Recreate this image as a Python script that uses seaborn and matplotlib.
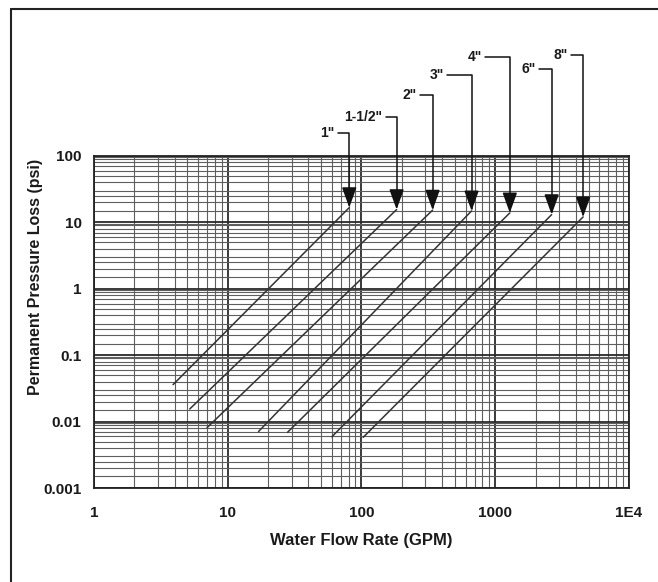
import matplotlib
matplotlib.use('Agg')
import pandas as pd
import matplotlib.pyplot as plt
import matplotlib.ticker as mticker
from matplotlib.lines import Line2D
import seaborn as sns

# pipe sizes and the two ends of each pressure-loss line
sizes = ['1"', '1-1/2"', '2"', '3"', '4"', '6"', '8"']
flow_low = [3.9, 5.2, 7.0, 17, 28, 60, 103]
loss_low = [0.036, 0.0155, 0.0081, 0.0071, 0.0069, 0.0059, 0.0058]
flow_high = [81, 183, 340, 665, 1285, 2640, 4540]
loss_high = [16.7, 15.6, 15.3, 14.9, 13.9, 13.1, 12.1]

x_ticks = [1, 10, 100, 1000, 10000]
x_labels = ['1', '10', '100', '1000', '1E4']
y_ticks = [0.001, 0.01, 0.1, 1, 10, 100]
y_labels = ['0.001', '0.01', '0.1', '1', '10', '100']

# where each size label sits relative to its arrow tip (pixels left, pixels up)
label_offsets = [(22, 75), (33, 93), (23, 115), (35, 136), (35, 156), (23, 146), (23, 162)]

df = pd.DataFrame({
    'size': sizes + sizes,
    'flow': flow_low + flow_high,
    'loss': loss_low + loss_high,
})

sns.set_style('white')
plt.rcParams['font.family'] = ['Liberation Sans', 'DejaVu Sans']
plt.rcParams['font.weight'] = 'bold'

fig = plt.figure(figsize=(6.58, 5.82), dpi=100)
ax = fig.add_axes([94 / 658, 94 / 582, 535 / 658, 332 / 582])
ax.set_xscale('log')
ax.set_yscale('log')
ax.set_xlim(1, 10000)
ax.set_ylim(0.001, 100)

# log paper grid
ax.xaxis.set_minor_locator(mticker.LogLocator(base=10, subs=range(2, 10)))
ax.yaxis.set_minor_locator(mticker.LogLocator(base=10, subs=[1.5, 2, 2.5, 3, 4, 5, 6, 7, 8, 9, 9.5]))
ax.grid(which='major', color='#2a2a2a', lw=1.3)
ax.grid(which='minor', color='#5e5e5e', lw=0.8)
ax.set_axisbelow(True)

sns.lineplot(data=df, x='flow', y='loss', hue='size', hue_order=sizes,
             palette=['#333333'] * len(sizes), estimator=None, legend=False,
             lw=1.1, ax=ax)

px = 0.72  # points per pixel at 100 dpi
for name, fx, ly, (dx, dy) in zip(sizes, flow_high, loss_high, label_offsets):
    ax.annotate(name, xy=(fx, ly), xytext=(-dx * px, dy * px),
                textcoords='offset points', ha='center', va='center',
                fontsize=10, fontweight='bold', color='#1a1a1a',
                annotation_clip=False,
                arrowprops=dict(arrowstyle='-|>,head_length=1.25,head_width=0.45',
                                connectionstyle='angle,angleA=0,angleB=90,rad=0',
                                color='#111111', lw=1.1, shrinkA=0, shrinkB=0,
                                mutation_scale=10))

ax.set_xticks(x_ticks, x_labels)
ax.set_yticks(y_ticks, y_labels)
ax.tick_params(which='both', direction='out', length=3, color='#333333')
ax.tick_params(axis='x', which='major', labelsize=11, pad=10, labelcolor='#1a1a1a')
ax.tick_params(axis='y', which='major', labelsize=11, pad=6, labelcolor='#1a1a1a')
ax.yaxis.set_minor_formatter(mticker.NullFormatter())
ax.xaxis.set_minor_formatter(mticker.NullFormatter())
for s in ax.spines.values():
    s.set_color('#222222')
    s.set_linewidth(1.3)

ax.set_xlabel('Water Flow Rate (GPM)', fontsize=12, fontweight='bold', color='#1a1a1a', labelpad=9)
ax.set_ylabel('Permanent Pressure Loss (psi)', fontsize=11.5, fontweight='bold', color='#1a1a1a')
ax.yaxis.set_label_coords(-0.095, 0.636)

# page frame (top and left edges)
fig.add_artist(Line2D([11 / 658, 1.0], [1 - 9 / 582, 1 - 9 / 582], color='#222222', lw=1.5))
fig.add_artist(Line2D([11 / 658, 11 / 658], [0.0, 1 - 9 / 582], color='#222222', lw=1.5))

fig.savefig('out.png', dpi=100)
